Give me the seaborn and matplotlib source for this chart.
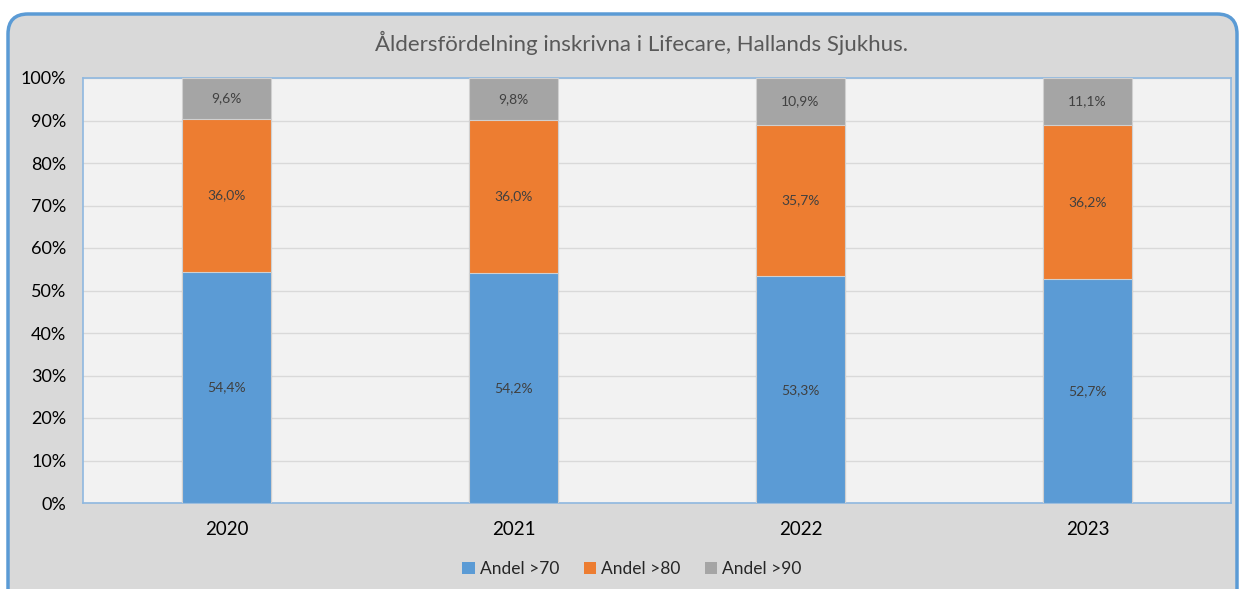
import matplotlib
matplotlib.use("Agg")
import matplotlib.pyplot as plt
from matplotlib.patches import FancyBboxPatch, Patch
from matplotlib.ticker import PercentFormatter
import seaborn as sns
import pandas as pd
import numpy as np

years = ["2020", "2021", "2022", "2023"]
andel_70 = [54.4, 54.2, 53.3, 52.7]
andel_80 = [36.0, 36.0, 35.7, 36.2]
andel_90 = [9.6, 9.8, 10.9, 11.1]
series_names = ["Andel >70", "Andel >80", "Andel >90"]
colors = ["#5B9BD5", "#ED7D31", "#A5A5A5"]
title = "Åldersfördelning inskrivna i Lifecare, Hallands Sjukhus."

sns.set_theme(style="white")
plt.rcParams['font.family'] = ['Lato', 'DejaVu Sans']

W, H = 1239, 589
fig = plt.figure(figsize=(W / 100, H / 100), dpi=100)
fig.patch.set_facecolor("white")

bg = fig.add_axes([0, 0, 1, 1], zorder=-10)
bg.set_xlim(0, W)
bg.set_ylim(H, 0)
bg.axis("off")
bg.add_patch(FancyBboxPatch((8, 14), W - 10, H + 20,
                            boxstyle="round,pad=0,rounding_size=20",
                            facecolor="#D9D9D9", edgecolor="#5B9BD5", linewidth=2.5))

ax = fig.add_axes([83 / W, 1 - 503 / H, (1231 - 83) / W, (503 - 78) / H])
ax.set_facecolor("#F2F2F2")

vals = np.array([andel_70, andel_80, andel_90])
cum = np.cumsum(vals, axis=0)
df = pd.DataFrame({"year": years})
for i in range(len(series_names) - 1, -1, -1):
    df["v"] = cum[i]
    sns.barplot(data=df, x="year", y="v", color=colors[i], width=0.31,
                saturation=1, ax=ax, edgecolor="#D0D0D0", linewidth=0.8, zorder=3)

for i in range(len(series_names)):
    bottoms = cum[i] - vals[i]
    for j, y in enumerate(years):
        ax.text(j, bottoms[j] + vals[i][j] / 2, f"{vals[i][j]:.1f}%".replace(".", ","),
                ha="center", va="center", fontsize=10, color="#404040", zorder=5)

ax.set_ylim(0, 100)
ax.set_xlim(-0.5, 3.5)
ax.set_yticks(np.arange(0, 101, 10))
ax.yaxis.set_major_formatter(PercentFormatter(decimals=0))
ax.grid(axis="y", color="#D9D9D9", linewidth=1, zorder=0)
ax.set_axisbelow(True)
ax.set_xlabel("")
ax.set_ylabel("")
for s in ax.spines.values():
    s.set_color("#8FB8E0")
    s.set_linewidth(1.2)
ax.tick_params(axis="x", length=0, labelsize=13.5, colors="black", pad=13)
ax.tick_params(axis="y", length=0, labelsize=13, colors="black", pad=12)

fig.text(0.518, 1 - 43 / H, title, ha="center", va="center", fontsize=16, color="#595959")

handles = [Patch(facecolor=c, edgecolor="none") for c in colors]
fig.legend(handles, series_names, loc="center", bbox_to_anchor=(0.51, 1 - 569 / H),
           ncol=3, frameon=False, fontsize=12.5, handlelength=0.7, handleheight=0.7,
           handletextpad=0.3, columnspacing=1.4)

fig.savefig("out.png", dpi=100, facecolor=fig.get_facecolor())
